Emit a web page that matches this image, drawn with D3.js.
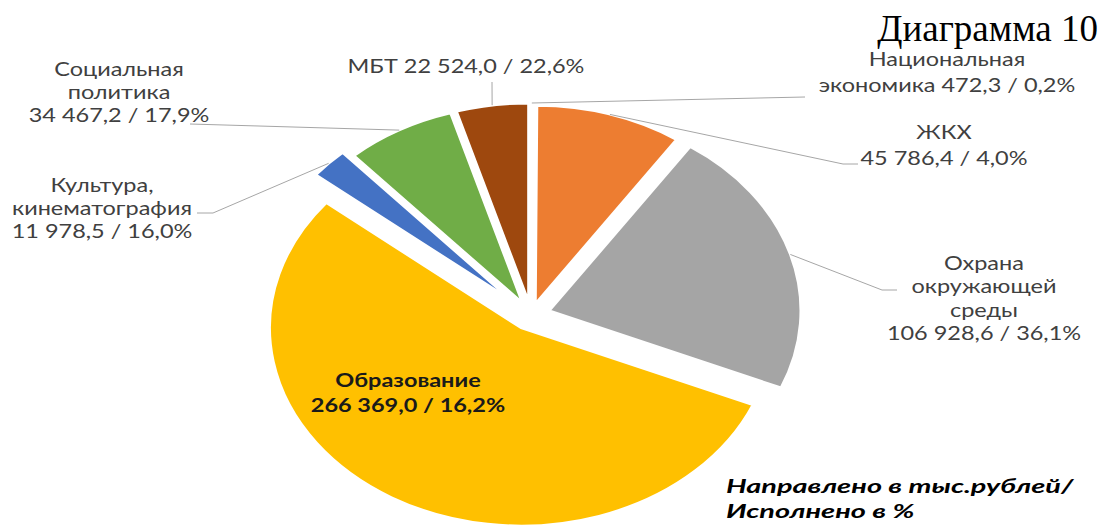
<!DOCTYPE html>
<html>
<head>
<meta charset="utf-8">
<script src="https://cdn.jsdelivr.net/npm/d3@7"></script>
<style>
  body { margin: 0; background: #fff; }
  svg { display: block; }
</style>
</head>
<body>
<div id="vis"></div>
<script>
const FRAME_WIDTH = 1104;
const FRAME_HEIGHT = 527;

// data: направлено (тыс. руб.) and исполнено (%)
const categories = ['Национальная экономика', 'ЖКХ', 'Охрана окружающей среды', 'Образование',
                    'Культура, кинематография', 'Социальная политика', 'МБТ'];
const nameLines = [['Национальная', 'экономика'], ['ЖКХ'], ['Охрана', 'окружающей', 'среды'], ['Образование'],
                   ['Культура,', 'кинематография'], ['Социальная', 'политика'], ['МБТ']];
const sentValues = [472.3, 45786.4, 106928.6, 266369.0, 11978.5, 34467.2, 22524.0];
const donePercent = [0.2, 4.0, 36.1, 16.2, 16.0, 17.9, 22.6];
const sliceColors = ['#5B9BD5', '#ED7D31', '#A5A5A5', '#FFC000', '#4472C4', '#70AD47', '#9E480E'];

// layout
const CX = 531, CY = 315, R = 198, SX = 1.27;
const EXPLODE = [14, 12, 15, 15, 22, 14, 14];
const LABELS = [
  {x: 947, y: 66, lh: 26, inline: true, end: [[805, 97]]},
  {x: 944, y: 139, lh: 26, end: [[843, 164], [858, 164]]},
  {x: 984, y: 270, lh: 23.5, end: [[882, 290], [897, 290]]},
  {x: 408, y: 387, lh: 25, bold: true, end: []},
  {x: 102, y: 192, lh: 23, end: [[213, 213], [197, 213]]},
  {x: 119, y: 76, lh: 23, end: [[190, 124]]},
  {x: 466, y: 73, lh: 23, inline: true, end: [[492, 82]]}
];

const ru = d3.formatLocale({decimal: ',', thousands: ' ', grouping: [3], currency: ['', '']});
const fmtValue = ru.format(',.1f');
const fmtPct = v => ru.format('.1f')(v) + '%';

const data = categories.map((c, i) => ({name: c, lines: nameLines[i], value: sentValues[i],
                                        pct: donePercent[i], color: sliceColors[i], i: i}));

const svg = d3.select('#vis')
  .append('svg')
    .attr('width', FRAME_WIDTH)
    .attr('height', FRAME_HEIGHT);

const pie = d3.pie().sort(null).value(d => d.value).startAngle(0);
const arc = d3.arc().innerRadius(0).outerRadius(R);
const arcs = pie(data);

// offset of each exploded slice (unscaled units)
const offset = a => {
  const mid = (a.startAngle + a.endAngle) / 2;
  const e = EXPLODE[a.data.i];
  return [e * Math.sin(mid), -e * Math.cos(mid)];
};

svg.append('g')
  .selectAll('path')
  .data(arcs)
  .join('path')
    .attr('transform', d => {
      const o = offset(d);
      return `translate(${CX},${CY}) scale(${SX},1) translate(${o[0]},${o[1]})`;
    })
    .attr('d', arc)
    .attr('fill', d => d.data.color)
    .attr('stroke', '#fff')
    .attr('stroke-width', 2.5)
    .attr('vector-effect', 'non-scaling-stroke');

// leader lines
const line = d3.line();
svg.append('g')
  .selectAll('path')
  .data(arcs.filter(d => LABELS[d.data.i].end.length))
  .join('path')
    .attr('d', d => {
      const mid = (d.startAngle + d.endAngle) / 2;
      const o = offset(d);
      const start = [CX + SX * (R * Math.sin(mid) + o[0]), CY + (-R * Math.cos(mid) + o[1])];
      return line([start].concat(LABELS[d.data.i].end));
    })
    .attr('fill', 'none')
    .attr('stroke', '#A6A6A6')
    .attr('stroke-width', 1);

// data labels
const labels = svg.append('g')
  .selectAll('g')
  .data(data)
  .join('g')
    .attr('transform', d => `translate(${LABELS[d.i].x},${LABELS[d.i].y}) scale(${SX},1)`);

labels.each(function(d) {
  const L = LABELS[d.i];
  const valueText = fmtValue(d.value) + ' / ' + fmtPct(d.pct);
  let rows = d.lines.slice();
  if (L.inline) rows[rows.length - 1] = rows[rows.length - 1] + ' ' + valueText;
  else rows.push(valueText);
  d3.select(this).selectAll('text')
    .data(rows)
    .join('text')
      .attr('y', (t, k) => k * L.lh)
      .attr('text-anchor', 'middle')
      .attr('font-family', 'Lato, sans-serif')
      .attr('font-size', '18.5px')
      .attr('font-weight', L.bold ? 'bold' : 'normal')
      .attr('fill', L.bold ? '#1a1a1a' : '#404040')
      .text(t => t);
});

// note
const note = svg.append('g')
  .attr('transform', 'translate(726,493) scale(1.52,1)');
note.selectAll('text')
  .data(['Направлено в тыс.рублей/', 'Исполнено в %'])
  .join('text')
    .attr('y', (t, k) => k * 25)
    .attr('font-family', 'Lato, sans-serif')
    .attr('font-size', '19px')
    .attr('font-weight', 'bold')
    .attr('font-style', 'italic')
    .attr('fill', '#000')
    .text(t => t);

// figure caption
svg.append('text')
  .attr('x', 1098)
  .attr('y', 41)
  .attr('text-anchor', 'end')
  .attr('font-family', '"Liberation Serif", serif')
  .attr('font-size', '37px')
  .attr('fill', '#000')
  .text('Диаграмма 10');
</script>
</body>
</html>
